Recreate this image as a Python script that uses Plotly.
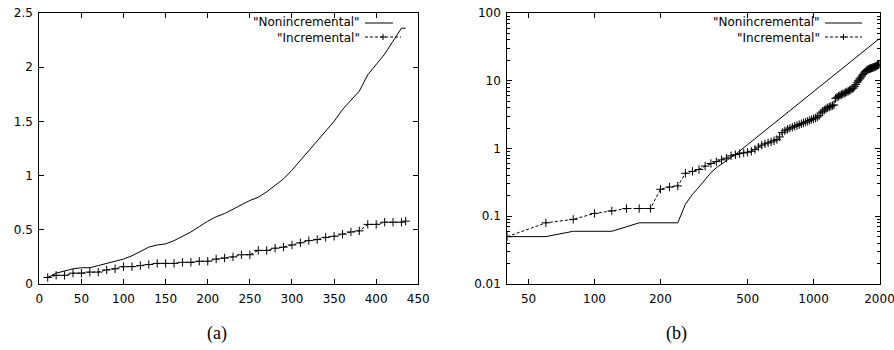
import plotly.graph_objects as go

# ---------------- Panel (a): linear axes ----------------
a_x = [10, 20, 30, 40, 50, 60, 70, 80, 90, 100, 110, 120, 130, 140, 150, 160, 170, 180, 190, 200,
       210, 220, 230, 240, 250, 260, 270, 280, 290, 300, 310, 320, 330, 340, 350, 360, 370, 380,
       390, 400, 410, 420, 430, 435]
a_nonincremental = [0.06, 0.10, 0.12, 0.14, 0.15, 0.15, 0.17, 0.19, 0.21, 0.23, 0.26, 0.30, 0.34,
                    0.36, 0.37, 0.40, 0.44, 0.48, 0.53, 0.58, 0.62, 0.65, 0.69, 0.73, 0.77, 0.80,
                    0.85, 0.91, 0.97, 1.05, 1.14, 1.23, 1.31, 1.40, 1.50, 1.61, 1.69, 1.78, 1.93,
                    2.03, 2.12, 2.24, 2.36, 2.36]
a_incremental = [0.06, 0.08, 0.08, 0.10, 0.10, 0.11, 0.11, 0.13, 0.14, 0.16, 0.16, 0.17, 0.18,
                 0.19, 0.19, 0.19, 0.20, 0.20, 0.21, 0.21, 0.23, 0.24, 0.25, 0.27, 0.27, 0.31,
                 0.31, 0.33, 0.34, 0.36, 0.38, 0.40, 0.41, 0.43, 0.44, 0.46, 0.48, 0.49, 0.55,
                 0.55, 0.57, 0.57, 0.57, 0.58]
a_xticks = [0, 50, 100, 150, 200, 250, 300, 350, 400, 450]
a_yticks = [0, 0.5, 1, 1.5, 2, 2.5]
a_yticklabels = ["0", "0.5", "1", "1.5", "2", "2.5"]

# ---------------- Panel (b): log-log axes ----------------
b_x_nonincremental = [40, 60, 80, 100, 120, 140, 160, 180, 200, 220, 240, 260, 280, 300, 320, 340,
                      360, 380, 400, 420, 440, 500, 600, 700, 800, 900, 1000, 1200, 1400, 1600,
                      1800, 2000]
b_nonincremental = [0.05, 0.05, 0.06, 0.06, 0.06, 0.07, 0.08, 0.08, 0.08, 0.08, 0.08, 0.15, 0.21,
                    0.27, 0.35, 0.44, 0.52, 0.59, 0.65, 0.73, 0.82, 1.14, 1.84, 2.74, 3.9, 5.3,
                    6.9, 11.1, 16.6, 23.5, 31.9, 42.0]
b_x_incremental = [40, 60, 80, 100, 120, 140, 160, 180, 200, 220, 240, 260, 280, 300, 320, 340,
                   360, 380, 400, 420, 440, 460, 480, 500, 520, 540, 560, 580, 600, 620, 640, 660,
                   680, 700, 720, 740, 760, 780, 800, 820, 840, 860, 880, 900, 920, 940, 960, 980,
                   1000, 1020, 1040, 1060, 1080, 1100, 1120, 1140, 1160, 1180, 1200, 1220, 1240,
                   1260, 1280, 1300, 1320, 1340, 1360, 1380, 1400, 1420, 1440, 1460, 1480, 1500,
                   1520, 1540, 1560, 1580, 1600, 1620, 1640, 1660, 1680, 1700, 1720, 1740, 1760,
                   1780, 1800, 1820, 1840, 1860, 1880, 1900, 1920, 1940, 1960, 1980, 2000]
b_incremental = [0.05, 0.08, 0.09, 0.11, 0.12, 0.13, 0.13, 0.13, 0.25, 0.27, 0.28, 0.43, 0.46,
                 0.49, 0.55, 0.60, 0.64, 0.68, 0.72, 0.78, 0.81, 0.84, 0.86, 0.88, 0.91, 0.97,
                 1.05, 1.12, 1.17, 1.21, 1.25, 1.30, 1.36, 1.48, 1.72, 1.82, 1.92, 2.00, 2.06,
                 2.13, 2.18, 2.25, 2.32, 2.38, 2.45, 2.52, 2.60, 2.68, 2.75, 2.82, 2.90, 3.05,
                 3.35, 3.55, 3.70, 3.85, 4.00, 4.10, 4.20, 4.30, 4.40, 5.50, 5.70, 5.90, 6.10,
                 6.25, 6.40, 6.50, 6.70, 6.85, 7.00, 7.20, 7.40, 7.60, 7.80, 8.20, 8.80, 9.50,
                 10.0, 10.6, 11.0, 11.7, 12.4, 13.0, 13.6, 14.1, 14.5, 14.8, 15.0, 15.2, 15.4,
                 15.6, 15.8, 16.0, 16.3, 16.6, 16.9, 17.2, 17.5]
b_xticks = [50, 100, 200, 500, 1000, 2000]
b_xticklabels = ["50", "100", "200", "500", "1000", "2000"]
b_yticks = [0.01, 0.1, 1, 10, 100]
b_yticklabels = ["0.01", "0.1", "1", "10", "100"]

series_names = ['"Nonincremental"', '"Incremental"']
panel_labels = ["(a)", "(b)"]

# ---------------- figure geometry (page pixels) ----------------
W, H = 894, 350
TOP, BOTTOM = 13, 284          # plot area in pixels
FONT = "DejaVu Sans, Liberation Sans, Arial, sans-serif"
SERIF = "Liberation Serif, Times New Roman, serif"


def px_x(p):
    return p / W


def px_y(p):
    return (BOTTOM - p) / (BOTTOM - TOP)


line_style = dict(color="black", width=1)
dash_style = dict(color="black", width=1, dash="3px,2px")
marker_style = dict(symbol="cross-thin", size=6, color="black", line=dict(color="black", width=1))

fig = go.Figure()
fig.add_trace(go.Scatter(x=a_x, y=a_nonincremental, mode="lines", line=line_style,
                         xaxis="x", yaxis="y", showlegend=False))
fig.add_trace(go.Scatter(x=a_x, y=a_incremental, mode="lines+markers", line=dash_style,
                         marker=marker_style, xaxis="x", yaxis="y", showlegend=False))
fig.add_trace(go.Scatter(x=b_x_nonincremental, y=b_nonincremental, mode="lines", line=line_style,
                         xaxis="x2", yaxis="y2", showlegend=False))
fig.add_trace(go.Scatter(x=b_x_incremental, y=b_incremental, mode="lines+markers", line=dash_style,
                         marker=marker_style, xaxis="x2", yaxis="y2", showlegend=False))

axis_common = dict(showgrid=False, zeroline=False, showline=True, linecolor="black", linewidth=1,
                   mirror="ticks", ticks="inside", ticklen=5, tickcolor="black", tickwidth=1,
                   automargin=False, ticklabeloverflow="allow",
                   tickfont=dict(family=FONT, size=12, color="black"))

minor_vals = [m * 10 ** e for e in range(-2, 2) for m in range(2, 10)]

fig.update_layout(
    width=W, height=H,
    margin=dict(l=0, r=0, t=TOP, b=H - BOTTOM),
    paper_bgcolor="white", plot_bgcolor="white",
    showlegend=False,
    xaxis=dict(domain=[px_x(39.3), px_x(418.3)], range=[0, 450], tickmode="array",
               tickvals=a_xticks, anchor="y", ticklabelstandoff=4, **axis_common),
    yaxis=dict(domain=[0, 1], range=[0, 2.5], tickmode="array", tickvals=a_yticks,
               ticktext=a_yticklabels, anchor="x", ticklabelstandoff=3, **axis_common),
    xaxis2=dict(domain=[px_x(507.3), px_x(879.5)], type="log", range=[1.60206, 3.30103],
                tickmode="array", tickvals=b_xticks, ticktext=b_xticklabels, anchor="y2",
                ticklabelstandoff=4, **axis_common),
    yaxis2=dict(domain=[0, 1], type="log", range=[-2, 2], tickmode="array", tickvals=b_yticks,
                ticktext=b_yticklabels, anchor="x2", ticklabelstandoff=3,
                minor=dict(tickmode="array", tickvals=minor_vals, ticks="inside", ticklen=2.5,
                           tickcolor="black", tickwidth=1, showgrid=False),
                **axis_common),
)

annotations = []
shapes = []


def legend(text_right, sample_left, sample_right_solid, sample_right_dash):
    ys = [22.5, 37.5]
    for name, yy in zip(series_names, ys):
        annotations.append(dict(xref="paper", yref="paper", x=px_x(text_right), y=px_y(yy),
                                text=name, showarrow=False, xanchor="right", yanchor="middle",
                                borderpad=0,
                                font=dict(family=FONT, size=12, color="black")))
    shapes.append(dict(type="line", xref="paper", yref="paper",
                       x0=px_x(sample_left), x1=px_x(sample_right_solid),
                       y0=px_y(ys[0] + 0.5), y1=px_y(ys[0] + 0.5), line=dict(color="black", width=1)))
    shapes.append(dict(type="line", xref="paper", yref="paper",
                       x0=px_x(sample_left), x1=px_x(sample_right_dash),
                       y0=px_y(ys[1] - 0.5), y1=px_y(ys[1] - 0.5),
                       line=dict(color="black", width=1, dash="3px,2px")))
    cx = (sample_left + sample_right_dash) / 2
    cy = ys[1] - 0.5
    shapes.append(dict(type="line", xref="paper", yref="paper", x0=px_x(cx - 3), x1=px_x(cx + 3),
                       y0=px_y(cy), y1=px_y(cy), line=dict(color="black", width=1)))
    shapes.append(dict(type="line", xref="paper", yref="paper", x0=px_x(cx), x1=px_x(cx),
                       y0=px_y(cy - 3), y1=px_y(cy + 3), line=dict(color="black", width=1)))


legend(361, 365, 393, 401)
legend(821, 825, 862, 862)

for lbl, cx in zip(panel_labels, [217, 676]):
    annotations.append(dict(xref="paper", yref="paper", x=px_x(cx), y=px_y(333), text=lbl,
                            showarrow=False, xanchor="center", yanchor="middle",
                            font=dict(family=SERIF, size=18, color="black")))

fig.update_layout(annotations=annotations, shapes=shapes)
fig.write_html("out.html", config={"displayModeBar": False},
               post_script="document.body.style.margin='0px';"
                           "document.body.style.overflow='hidden';")
